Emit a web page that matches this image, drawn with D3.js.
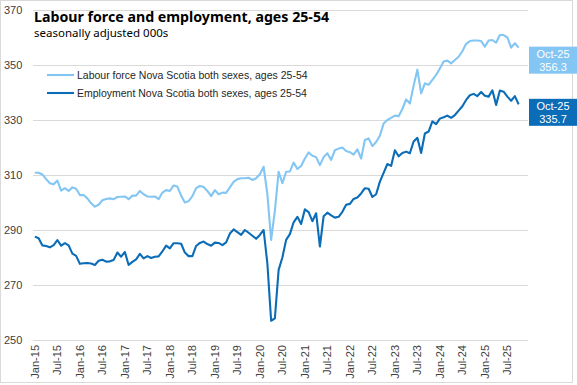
<!DOCTYPE html>
<html>
<head>
<meta charset="utf-8">
<script src="https://cdn.jsdelivr.net/npm/d3@7"></script>
<style>
body { margin: 0; background: #fff; }
svg { display: block; }
</style>
</head>
<body>
<div id="chart"></div>
<script>
// Monthly values, Jan-15 .. Oct-25 (000s)
const labourForce = [
	310.8, 310.8, 310.2, 308.5, 307.0, 306.6, 308.0, 304.3, 305.2, 304.2, 305.5, 305.0,
	302.7, 302.7, 301.5, 299.7, 298.5, 299.2, 300.8, 301.3, 301.5, 301.2, 302.0, 302.1,
	302.2, 301.2, 302.5, 302.5, 304.2, 303.0, 302.2, 302.1, 302.2, 301.2, 303.6, 304.5,
	304.2, 306.2, 305.8, 302.5, 300.0, 300.5, 302.3, 305.2, 306.0, 305.6, 304.2, 302.3,
	304.5, 303.0, 303.6, 303.5, 305.5, 307.5, 308.5, 308.8, 308.8, 309.0, 308.2, 308.8,
	310.3, 313.0, 303.0, 286.4, 297.0, 311.2, 307.0, 311.2, 311.3, 314.5, 312.2, 313.3,
	316.0, 318.2, 317.0, 316.5, 313.6, 316.5, 317.9, 315.5, 319.0, 319.6, 320.0, 318.7,
	318.3, 317.4, 319.3, 316.0, 322.7, 323.3, 320.5, 322.0, 324.3, 328.7, 330.0, 330.8,
	331.6, 331.4, 334.0, 337.5, 336.0, 342.5, 348.3, 339.7, 343.3, 342.8, 344.6, 346.4,
	348.7, 351.3, 351.6, 350.6, 351.8, 353.0, 355.0, 357.7, 358.7, 358.9, 358.9, 358.7,
	356.7, 358.9, 359.1, 358.1, 360.9, 360.9, 360.0, 356.3, 357.9, 356.3
];
const employment = [
	287.6, 287.0, 284.4, 284.2, 283.7, 284.5, 286.3, 284.3, 285.2, 284.4, 281.4, 280.6,
	277.7, 277.9, 278.0, 277.8, 277.3, 278.8, 279.2, 278.5, 278.6, 279.1, 281.8, 280.3,
	282.0, 277.3, 278.4, 279.3, 281.3, 279.7, 280.5, 279.8, 280.3, 280.4, 282.2, 284.3,
	283.3, 285.2, 285.2, 285.0, 281.8, 280.5, 280.5, 284.2, 285.3, 285.8, 284.9, 284.3,
	285.4, 285.3, 284.5, 285.5, 288.7, 290.2, 289.2, 288.2, 290.0, 289.0, 287.9, 286.8,
	288.2, 290.0, 277.8, 257.0, 257.9, 275.5, 280.0, 286.4, 288.5, 292.8, 294.8, 292.2,
	297.5, 296.5, 293.2, 296.1, 284.0, 295.0, 296.3, 295.3, 294.5, 294.8, 296.6, 299.2,
	299.5, 301.3, 301.8, 303.3, 305.2, 305.0, 302.0, 303.0, 307.6, 310.8, 314.0, 313.3,
	319.0, 316.8, 318.0, 318.5, 317.9, 322.2, 323.5, 318.0, 325.1, 325.8, 329.5, 328.5,
	330.5, 331.0, 331.6, 330.8, 331.8, 333.4, 335.0, 337.3, 339.0, 339.5, 338.7, 340.2,
	338.8, 338.5, 340.8, 335.5, 340.7, 340.3, 338.5, 337.0, 338.7, 335.7
];
const seriesNames = [
	"Labour force Nova Scotia both sexes, ages 25-54",
	"Employment Nova Scotia both sexes, ages 25-54"
];
const seriesColors = ["#83c6f4", "#0b6cb7"];
const lastLabel = "Oct-25";

// category axis runs Jan-15 .. Dec-25 (last two months empty)
const formatMonth = d3.timeFormat("%b-%y");
const categories = d3.timeMonths(new Date(2015, 0, 1), new Date(2026, 0, 1)).map(formatMonth);
const tickLabels = [
	"Jan-15", "Jul-15", "Jan-16", "Jul-16", "Jan-17", "Jul-17", "Jan-18", "Jul-18",
	"Jan-19", "Jul-19", "Jan-20", "Jul-20", "Jan-21", "Jul-21", "Jan-22", "Jul-22",
	"Jan-23", "Jul-23", "Jan-24", "Jul-24", "Jan-25", "Jul-25"
];
const yTicks = [250, 270, 290, 310, 330, 350, 370];

const width = 577, height = 385;
const plot = { left: 33, right: 528, top: 10, bottom: 340 };

const svg = d3.select("#chart").append("svg")
	.attr("width", width)
	.attr("height", height);

// outer frame
svg.append("rect")
	.attr("x", 0.5).attr("y", 0.5)
	.attr("width", 572).attr("height", 382)
	.attr("fill", "#fff")
	.attr("stroke", "#d9d9d9");

const xScale = d3.scaleBand()
	.domain(categories)
	.range([plot.left, plot.right]);
const xPos = i => xScale(categories[i]) + xScale.bandwidth() / 2;

const yScale = d3.scaleLinear()
	.domain([250, 370])
	.range([plot.bottom, plot.top]);

// gridlines + y labels
const yAxis = svg.append("g")
	.attr("transform", `translate(${plot.left},0)`)
	.call(d3.axisLeft(yScale).tickValues(yTicks).tickSize(-(plot.right - plot.left)).tickFormat(d3.format("d")));
yAxis.select(".domain").remove();
yAxis.selectAll("line").attr("stroke", "#d9d9d9");
yAxis.selectAll("text")
	.attr("x", 4 - plot.left)
	.attr("text-anchor", "start")
	.attr("fill", "#404040")
	.attr("font-family", "Liberation Sans, Arial, sans-serif")
	.attr("font-size", "11px");

// x axis labels
const xAxis = svg.append("g")
	.attr("transform", `translate(0,${plot.bottom})`)
	.call(d3.axisBottom(xScale).tickValues(tickLabels).tickSize(0));
xAxis.select(".domain").remove();
xAxis.selectAll("text")
	.attr("transform", "rotate(-90)")
	.attr("x", -5)
	.attr("y", 0)
	.attr("dy", "0.35em")
	.attr("text-anchor", "end")
	.attr("fill", "#404040")
	.attr("font-family", "Liberation Sans, Arial, sans-serif")
	.attr("font-size", "11px");

// lines
const line = d3.line()
	.x((d, i) => xPos(i))
	.y(d => yScale(d));

[labourForce, employment].forEach((values, k) => {
	svg.append("path")
		.attr("d", line(values))
		.attr("fill", "none")
		.attr("stroke", seriesColors[k])
		.attr("stroke-width", 2.1)
		.attr("stroke-linejoin", "round");
});

// title
svg.append("text")
	.attr("x", 34).attr("y", 22)
	.attr("font-family", "Noto Sans, sans-serif")
	.attr("font-weight", "bold")
	.attr("font-size", "14.2px")
	.attr("fill", "#000")
	.text("Labour force and employment, ages 25-54");

svg.append("text")
	.attr("x", 34).attr("y", 37)
	.attr("font-family", "Noto Sans, sans-serif")
	.attr("font-size", "11.5px")
	.attr("fill", "#000")
	.text("seasonally adjusted 000s");

// legend
const legend = svg.append("g")
	.attr("transform", "translate(47,75)");
seriesNames.forEach((name, k) => {
	const row = legend.append("g").attr("transform", `translate(0,${k * 18})`);
	row.append("line")
		.attr("x1", 0).attr("x2", 27)
		.attr("stroke", seriesColors[k])
		.attr("stroke-width", 2.1);
	row.append("text")
		.attr("x", 30)
		.attr("dy", "0.35em")
		.attr("font-family", "Liberation Sans, Arial, sans-serif")
		.attr("font-size", "10.5px")
		.attr("fill", "#262626")
		.text(name);
});

// end-of-line value boxes
const lastIndex = labourForce.length - 1;
const boxOffsets = [12.5, 8];
[labourForce, employment].forEach((values, k) => {
	const v = values[lastIndex];
	const cy = yScale(v) + boxOffsets[k];
	const g = svg.append("g").attr("transform", `translate(529,${cy - 13.5})`);
	g.append("rect")
		.attr("width", 48).attr("height", 27)
		.attr("fill", seriesColors[k]);
	g.append("text")
		.attr("x", 24).attr("y", 11)
		.attr("text-anchor", "middle")
		.attr("font-family", "Liberation Sans, Arial, sans-serif")
		.attr("font-size", "11px")
		.attr("fill", "#fff")
		.text(lastLabel);
	g.append("text")
		.attr("x", 24).attr("y", 24)
		.attr("text-anchor", "middle")
		.attr("font-family", "Liberation Sans, Arial, sans-serif")
		.attr("font-size", "11px")
		.attr("fill", "#fff")
		.text(d3.format(".1f")(v));
});
</script>
</body>
</html>
